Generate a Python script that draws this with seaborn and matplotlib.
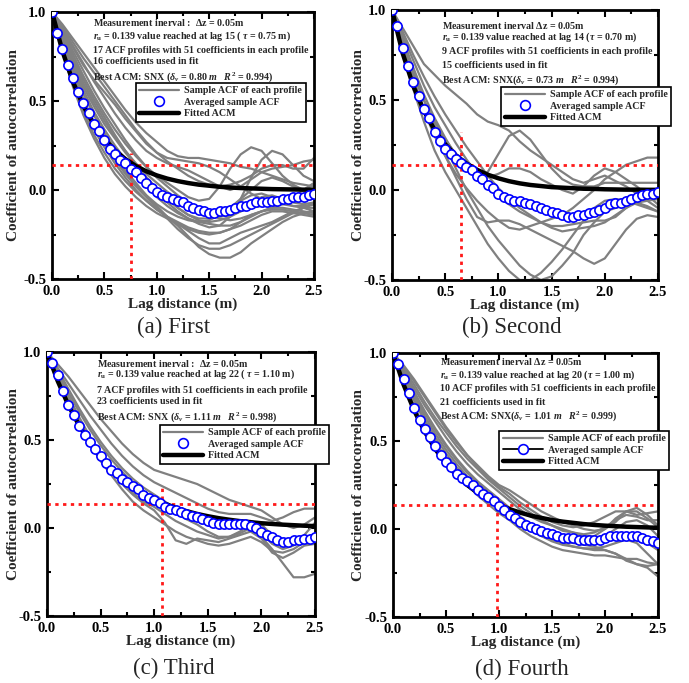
import numpy as np
import pandas as pd
import matplotlib
matplotlib.use("Agg")
import matplotlib.pyplot as plt
import seaborn as sns
from matplotlib.lines import Line2D

# ---------------- data ----------------
lag_avg = [round(0.05 * i, 2) for i in range(51)]
lag_10 = [round(0.1 * i, 1) for i in range(26)]

avg_a = [1.0, 0.88, 0.79, 0.70, 0.63, 0.55, 0.49, 0.43, 0.37, 0.33, 0.28, 0.23, 0.20, 0.17, 0.15, 0.12,
         0.10, 0.07, 0.04, 0.01, -0.01, -0.03, -0.04, -0.05, -0.06, -0.07, -0.09, -0.10, -0.11, -0.12,
         -0.13, -0.13, -0.12, -0.12, -0.11, -0.10, -0.09, -0.09, -0.08, -0.07, -0.07, -0.07, -0.06,
         -0.06, -0.05, -0.05, -0.04, -0.04, -0.04, -0.03, -0.02]
avg_b = [1.0, 0.91, 0.79, 0.69, 0.60, 0.52, 0.45, 0.40, 0.32, 0.27, 0.23, 0.20, 0.17, 0.15, 0.13, 0.11,
         0.08, 0.06, 0.03, 0.01, -0.02, -0.04, -0.05, -0.06, -0.06, -0.07, -0.08, -0.09, -0.10, -0.11,
         -0.12, -0.13, -0.14, -0.15, -0.15, -0.14, -0.14, -0.13, -0.12, -0.11, -0.10, -0.08, -0.07,
         -0.07, -0.06, -0.05, -0.04, -0.03, -0.02, -0.02, -0.01]
avg_c = [1.0, 0.94, 0.87, 0.78, 0.70, 0.64, 0.58, 0.53, 0.49, 0.45, 0.41, 0.37, 0.33, 0.31, 0.28, 0.26,
         0.24, 0.22, 0.19, 0.17, 0.16, 0.14, 0.12, 0.11, 0.10, 0.09, 0.08, 0.07, 0.06, 0.05, 0.04, 0.03,
         0.02, 0.02, 0.02, 0.02, 0.02, 0.02, 0.01, 0.00, -0.02, -0.04, -0.05, -0.07, -0.08, -0.08,
         -0.07, -0.07, -0.06, -0.06, -0.05]
avg_d = [1.0, 0.94, 0.85, 0.77, 0.69, 0.62, 0.57, 0.52, 0.47, 0.42, 0.38, 0.35, 0.31, 0.29, 0.27, 0.25,
         0.22, 0.20, 0.18, 0.16, 0.13, 0.11, 0.08, 0.06, 0.04, 0.02, 0.01, 0.00, -0.01, -0.02, -0.03,
         -0.04, -0.05, -0.05, -0.05, -0.06, -0.06, -0.06, -0.06, -0.06, -0.05, -0.04, -0.04, -0.04,
         -0.04, -0.04, -0.04, -0.05, -0.06, -0.07, -0.08]

fit_a = [1.0, 0.779, 0.607, 0.472, 0.368, 0.287, 0.223, 0.174, 0.135, 0.105, 0.082, 0.064, 0.050, 0.039,
         0.030, 0.024, 0.018, 0.014, 0.011, 0.009, 0.007, 0.005, 0.004, 0.003, 0.002, 0.002]
fit_b = [1.0, 0.760, 0.578, 0.440, 0.334, 0.254, 0.193, 0.147, 0.112, 0.085, 0.065, 0.049, 0.037, 0.028,
         0.022, 0.016, 0.013, 0.010, 0.007, 0.006, 0.004, 0.003, 0.002, 0.002, 0.001, 0.001]
fit_c = [1.0, 0.835, 0.697, 0.582, 0.486, 0.406, 0.339, 0.283, 0.236, 0.198, 0.165, 0.138, 0.115, 0.096,
         0.080, 0.067, 0.056, 0.047, 0.039, 0.033, 0.027, 0.023, 0.019, 0.016, 0.013, 0.011]
fit_d = [1.0, 0.820, 0.673, 0.552, 0.453, 0.372, 0.305, 0.250, 0.205, 0.168, 0.138, 0.113, 0.093, 0.076,
         0.063, 0.051, 0.042, 0.035, 0.028, 0.023, 0.019, 0.016, 0.013, 0.011, 0.009, 0.007]

prof_a = [
    [1, .93, .85, .77, .69, .61, .53, .45, .38, .32, .27, .22, .19, .18, .18, .17, .16, .15, .13, .12, .10, .08, .06, .04, .03, .02],
    [1, .90, .80, .70, .62, .55, .48, .40, .33, .26, .21, .18, .17, .16, .15, .13, .10, .06, .02, -.02, -.05, -.07, -.08, -.09, -.09, -.08],
    [1, .85, .70, .56, .44, .34, .25, .17, .10, .04, -.02, -.07, -.12, -.16, -.19, -.21, -.20, -.15, -.05, .07, .17, .22, .20, .14, .08, .05],
    [1, .80, .62, .46, .34, .24, .15, .07, .00, -.06, -.11, -.15, -.19, -.23, -.27, -.30, -.30, -.27, -.24, -.22, -.20, -.18, -.15, -.12, -.10, -.12],
    [1, .82, .65, .50, .38, .28, .19, .11, .04, -.03, -.09, -.15, -.20, -.26, -.32, -.36, -.38, -.38, -.35, -.30, -.26, -.22, -.18, -.15, -.13, -.12],
    [1, .88, .76, .64, .53, .43, .34, .26, .19, .13, .08, .04, .00, -.04, -.06, -.05, .02, .12, .20, .24, .22, .15, .08, .03, .00, -.02],
    [1, .86, .73, .60, .49, .39, .30, .22, .15, .09, .04, -.01, -.05, -.09, -.12, -.14, -.15, -.14, -.12, -.10, -.09, -.08, -.06, -.04, .00, .04],
    [1, .84, .68, .54, .42, .32, .23, .15, .08, .02, -.04, -.09, -.13, -.16, -.18, -.19, -.20, -.20, -.18, -.15, -.12, -.10, -.10, -.11, -.12, -.13],
    [1, .78, .58, .42, .29, .18, .09, .02, -.04, -.09, -.13, -.16, -.19, -.22, -.24, -.25, -.24, -.22, -.20, -.17, -.14, -.12, -.12, -.13, -.14, -.15],
    [1, .92, .83, .74, .66, .58, .50, .42, .34, .27, .21, .16, .12, .08, .05, .03, .02, .03, .05, .08, .12, .14, .14, .12, .12, .18],
    [1, .87, .74, .62, .51, .41, .31, .22, .14, .07, .01, -.05, -.10, -.14, -.17, -.18, -.17, -.15, -.12, -.08, -.04, -.03, -.05, -.07, -.08, -.07],
    [1, .83, .66, .51, .38, .27, .18, .10, .03, -.03, -.08, -.12, -.15, -.17, -.18, -.17, -.14, -.10, -.06, -.03, -.02, -.04, -.07, -.09, -.10, -.10],
    [1, .89, .78, .67, .56, .46, .37, .28, .20, .13, .07, .02, -.03, -.07, -.11, -.14, -.16, -.17, -.16, -.14, -.12, -.10, -.08, -.06, -.05, -.05],
    [1, .81, .63, .48, .36, .26, .17, .09, .02, -.04, -.10, -.16, -.22, -.27, -.31, -.33, -.33, -.31, -.28, -.25, -.22, -.19, -.16, -.13, -.10, -.08],
    [1, .91, .81, .71, .61, .52, .43, .35, .28, .22, .18, .15, .13, .11, .08, .05, .02, .00, .02, .06, .10, .12, .13, .14, .16, .17],
    [1, .85, .71, .58, .47, .37, .29, .21, .14, .07, .01, -.05, -.10, -.14, -.16, -.16, -.14, -.10, -.05, .00, .05, .07, .05, .02, .00, .03],
    [1, .79, .60, .44, .31, .21, .12, .05, -.01, -.06, -.11, -.15, -.18, -.21, -.23, -.24, -.24, -.22, -.18, -.14, -.12, -.11, -.11, -.12, -.13, -.14],
]
prof_b = [
    [1, .90, .80, .70, .64, .58, .53, .48, .42, .38, .36, .33, .27, .22, .18, .14, .10, .06, .04, .06, .08, .05, .02, -.02, -.06, -.10],
    [1, .84, .68, .53, .40, .29, .19, .12, .08, .10, .20, .30, .33, .28, .20, .12, .06, .03, .02, .02, .04, .04, .04, .04, .04, .04],
    [1, .82, .64, .50, .38, .28, .20, .14, .09, .07, .09, .12, .12, .10, .06, .03, .00, -.02, .02, .08, .12, .10, .06, .02, -.03, -.08],
    [1, .80, .60, .44, .30, .19, .09, .01, -.06, -.12, -.17, -.21, -.22, -.20, -.18, -.16, -.14, -.10, -.05, .00, .06, .10, .14, .16, .18, .18],
    [1, .78, .56, .38, .22, .10, .00, -.10, -.20, -.30, -.38, -.45, -.50, -.50, -.46, -.40, -.33, -.25, -.17, -.10, -.06, -.05, -.06, -.08, -.10, -.12],
    [1, .83, .66, .50, .36, .24, .12, .00, -.10, -.20, -.28, -.35, -.42, -.47, -.50, -.48, -.42, -.35, -.25, -.18, -.12, -.10, -.08, -.07, -.06, -.05],
    [1, .81, .62, .45, .31, .19, .07, -.05, -.15, -.18, -.17, -.17, -.19, -.22, -.25, -.28, -.31, -.34, -.38, -.41, -.38, -.30, -.22, -.16, -.14, -.15],
    [1, .86, .72, .58, .46, .36, .26, .17, .09, .02, -.04, -.08, -.12, -.15, -.18, -.20, -.20, -.19, -.18, -.17, -.17, -.15, -.10, -.07, -.09, -.12],
    [1, .88, .75, .63, .52, .42, .33, .24, .16, .08, .01, -.05, -.10, -.14, -.18, -.21, -.23, -.22, -.21, -.20, -.18, -.14, -.10, -.05, -.02, -.03],
]
prof_c = [
    [1, .93, .86, .78, .70, .62, .55, .48, .42, .37, .33, .31, .29, .27, .25, .22, .19, .16, .14, .12, .10, .06, .02, .00, .02, .06],
    [1, .91, .82, .73, .64, .56, .48, .41, .35, .30, .26, .23, .20, .17, .14, .11, .09, .08, .08, .08, .06, .04, .06, .09, .11, .11],
    [1, .89, .77, .66, .56, .47, .39, .32, .26, .21, .17, .13, .09, .05, .02, -.02, -.05, -.05, -.02, .02, -.05, -.12, -.20, -.28, -.28, -.26],
    [1, .87, .74, .61, .50, .40, .32, .25, .19, .14, .10, .03, -.07, -.09, -.06, -.07, -.08, -.06, -.04, -.02, -.06, -.14, -.17, -.14, -.10, -.09],
    [1, .86, .72, .59, .48, .38, .30, .22, .15, .10, .06, .02, -.02, -.05, -.07, -.09, -.10, -.09, -.07, -.05, -.08, -.13, -.14, -.12, -.08, -.06],
    [1, .88, .75, .63, .52, .42, .34, .27, .20, .15, .12, .08, .04, .01, -.02, -.04, -.06, -.05, -.03, .00, -.03, -.09, -.12, -.10, -.04, .03],
    [1, .90, .79, .68, .58, .49, .41, .34, .28, .23, .19, .15, .11, .08, .05, .03, .02, .03, .04, .04, .02, -.04, -.08, -.09, -.07, -.05],
]
prof_d = [
    [1, .92, .84, .75, .66, .57, .49, .42, .36, .30, .25, .22, .18, .14, .10, .07, .04, .02, .00, -.01, .00, .04, .10, .12, .08, .02],
    [1, .90, .80, .70, .61, .52, .44, .37, .31, .26, .21, .16, .11, .07, .04, .02, .00, -.02, -.04, -.04, .00, .06, .10, .10, .06, .01],
    [1, .88, .76, .64, .54, .45, .37, .30, .24, .19, .15, .10, .05, .01, -.03, -.06, -.08, -.10, -.11, -.12, -.12, -.14, -.17, -.20, -.22, -.27],
    [1, .86, .73, .61, .50, .40, .32, .25, .19, .14, .09, .05, .00, -.04, -.07, -.10, -.12, -.13, -.14, -.15, -.15, -.16, -.17, -.17, -.19, -.20],
    [1, .89, .78, .67, .57, .48, .40, .33, .27, .22, .17, .12, .07, .03, .00, -.03, -.05, -.06, -.07, -.06, -.04, .00, .04, .05, .02, -.04],
    [1, .85, .70, .57, .47, .38, .31, .25, .20, .16, .12, .07, .03, -.01, -.04, -.06, -.07, -.08, -.09, -.10, -.12, -.14, -.18, -.20, -.21, -.20],
    [1, .91, .82, .72, .63, .55, .47, .40, .34, .28, .23, .18, .13, .09, .05, .02, -.01, -.02, -.03, -.02, .01, .05, .08, .07, .05, .05],
    [1, .87, .74, .62, .52, .43, .35, .29, .24, .19, .14, .09, .04, .00, -.04, -.07, -.09, -.10, -.11, -.11, -.10, -.08, -.06, -.08, -.14, -.20],
    [1, .93, .85, .76, .67, .58, .50, .42, .35, .29, .24, .20, .15, .11, .07, .04, .02, .01, .02, .04, .07, .10, .10, .08, .09, .10],
    [1, .88, .77, .66, .56, .47, .39, .32, .26, .21, .16, .11, .06, .02, -.01, -.04, -.06, -.07, -.08, -.08, -.07, -.05, -.03, -.04, -.08, -.12],
]

threshold = 0.139
tau_mark = [0.75, 0.65, 1.07, 0.98]
tau_top = [0.21, 0.32, 0.23, 0.19]
captions = ["(a) First", "(b) Second", "(c) Third", "(d) Fourth"]

texts_a = ["Measurement inerval :  $\\Delta$z = 0.05m",
           "$r_{\\mathrm{u}}$ = 0.139 value reached at lag 15 ( $\\tau$ = 0.75 m)",
           "17 ACF profiles with 51 coefficients in each profile",
           "16 coefficients used in fit",
           "Best ACM: SNX ($\\delta_v$ = 0.80 $m$   $R^2$ = 0.994)"]
texts_b = ["Measurement inerval $\\Delta$z = 0.05m",
           "$r_{\\mathrm{u}}$ = 0.139 value reached at lag 14 ($\\tau$ = 0.70 m)",
           "9 ACF profiles with 51 coefficients in each profile",
           "15 coefficients used in fit",
           "Best ACM: SNX($\\delta_v$ = 0.73 $m$   $R^2$ = 0.994)"]
texts_c = ["Measurement inerval :  $\\Delta$z = 0.05m",
           "$r_{\\mathrm{u}}$ = 0.139 value reached at lag 22 ( $\\tau$ = 1.10 m)",
           "7 ACF profiles with 51 coefficients in each profile",
           "23 coefficients used in fit",
           "Best ACM: SNX ($\\delta_v$ = 1.11 $m$   $R^2$ = 0.998)"]
texts_d = ["Measurement inerval $\\Delta$z = 0.05m",
           "$r_{\\mathrm{u}}$ = 0.139 value reached at lag 20 ($\\tau$ = 1.00 m)",
           "10 ACF profiles with 51 coefficients in each profile",
           "21 coefficients used in fit",
           "Best ACM: SNX($\\delta_v$ = 1.01 $m$   $R^2$ = 0.999)"]

# ---------------- style ----------------
sns.set_theme(style="ticks")
plt.rcParams["font.family"] = ["Liberation Serif", "DejaVu Serif"]
plt.rcParams["mathtext.fontset"] = "custom"
plt.rcParams["mathtext.rm"] = "Liberation Serif:bold"
plt.rcParams["mathtext.it"] = "Liberation Serif:italic:bold"
plt.rcParams["mathtext.bf"] = "Liberation Serif:bold"

W, H = 689, 683
fig = plt.figure(figsize=(W / 100, H / 100), dpi=100)

panels = [
    dict(box=(52, 12, 314, 279), avg=avg_a, fit=fit_a, prof=prof_a, texts=texts_a,
         tx=0.157, ty=[0.959, 0.910, 0.857, 0.813, 0.757], leg=(0.32, 0.735), avgline=False,
         cap=(174, 327), ylx=-0.122),
    dict(box=(392, 10, 658, 280), avg=avg_b, fit=fit_b, prof=prof_b, texts=texts_b,
         tx=0.188, ty=[0.944, 0.900, 0.846, 0.795, 0.741], leg=(0.41, 0.715), avgline=False,
         cap=(512, 327), ylx=-0.10),
    dict(box=(47, 352, 315, 616), avg=avg_c, fit=fit_c, prof=prof_c, texts=texts_c,
         tx=0.187, ty=[0.958, 0.915, 0.856, 0.811, 0.754], leg=(0.42, 0.725), avgline=False,
         cap=(174, 668), ylx=-0.10),
    dict(box=(393, 353, 658, 617), avg=avg_d, fit=fit_d, prof=prof_d, texts=texts_d,
         tx=0.177, ty=[0.966, 0.917, 0.864, 0.814, 0.761], leg=(0.40, 0.705), avgline=True,
         cap=(522, 669), ylx=-0.106),
]

for i, p in enumerate(panels):
    x0, y0, x1, y1 = p["box"]
    ax = fig.add_axes([x0 / W, 1 - y1 / H, (x1 - x0) / W, (y1 - y0) / H])

    rows = []
    for k, prof in enumerate(p["prof"]):
        for lg, v in zip(lag_10, prof):
            rows.append(dict(profile=k, lag=lg, acf=v))
    dprof = pd.DataFrame(rows)
    sns.lineplot(data=dprof, x="lag", y="acf", units="profile", estimator=None,
                 color="#808080", lw=1.6, ax=ax, legend=False)

    ax.axhline(threshold, color="#ff1a1a", lw=2.0, ls=(0, (1.2, 1.6)), zorder=3)
    ax.plot([tau_mark[i], tau_mark[i]], [-0.5, tau_top[i]], color="#ff1a1a", lw=2.0,
            ls=(0, (1.2, 1.6)), zorder=3)

    dfit = pd.DataFrame(dict(lag=lag_10, acf=p["fit"]))
    sns.lineplot(data=dfit, x="lag", y="acf", color="black", lw=3.2, ax=ax, zorder=4)

    davg = pd.DataFrame(dict(lag=lag_avg, acf=p["avg"]))
    sns.scatterplot(data=davg, x="lag", y="acf", marker="o", s=44, facecolor="white",
                    edgecolor="#0000ff", linewidth=1.2, ax=ax, zorder=5)

    ax.set_xlim(0, 2.5)
    ax.set_ylim(-0.5, 1.0)
    ax.set_xticks([0, 0.5, 1.0, 1.5, 2.0, 2.5])
    ax.set_xticks([0.25, 0.75, 1.25, 1.75, 2.25], minor=True)
    ax.set_yticks([-0.5, 0.0, 0.5, 1.0])
    ax.set_yticks([-0.25, 0.25, 0.75], minor=True)
    ax.set_xticklabels(["0.0", "0.5", "1.0", "1.5", "2.0", "2.5"])
    ax.set_yticklabels(["-0.5", "0.0", "0.5", "1.0"])
    ax.tick_params(which="both", direction="in", top=True, right=True, width=1.5, colors="black")
    ax.tick_params(which="major", length=5, labelsize=10.5, pad=4)
    ax.tick_params(which="minor", length=3)
    for lab in ax.get_xticklabels() + ax.get_yticklabels():
        lab.set_fontweight("bold")
    for s in ax.spines.values():
        s.set_linewidth(2.0)
        s.set_color("black")
    ax.set_xlabel("Lag distance (m)", fontsize=11, fontweight="bold", labelpad=0)
    ax.set_ylabel("Coefficient of autocorrelation", fontsize=11, fontweight="bold")
    ax.yaxis.set_label_coords(p["ylx"], 0.5)

    for t, yy in zip(p["texts"], p["ty"]):
        ax.text(p["tx"], yy, t, transform=ax.transAxes, fontsize=7.2, fontweight="bold",
                ha="left", va="center", clip_on=False, zorder=6)

    handles = [
        Line2D([], [], color="#808080", lw=1.6),
        Line2D([], [], color="black" if p["avgline"] else "none", lw=1.3, marker="o",
               markersize=7, markerfacecolor="white", markeredgecolor="#0000ff", markeredgewidth=1.2),
        Line2D([], [], color="black", lw=3.2),
    ]
    labels = ["Sample ACF of each profile", "Averaged sample ACF", "Fitted ACM"]
    leg = ax.legend(handles, labels, loc="upper left", bbox_to_anchor=p["leg"], borderaxespad=0,
                    frameon=True, fancybox=False, framealpha=1, edgecolor="black",
                    prop=dict(family="Liberation Serif", weight="bold", size=7.2),
                    handlelength=4.0, handletextpad=0.5, labelspacing=0.25, borderpad=0.35)
    leg.get_frame().set_linewidth(1.2)
    leg.set_zorder(7)

    fig.text(p["cap"][0] / W, 1 - p["cap"][1] / H, captions[i], fontsize=16.5,
             ha="center", va="center")

fig.savefig("out.png", dpi=100)
